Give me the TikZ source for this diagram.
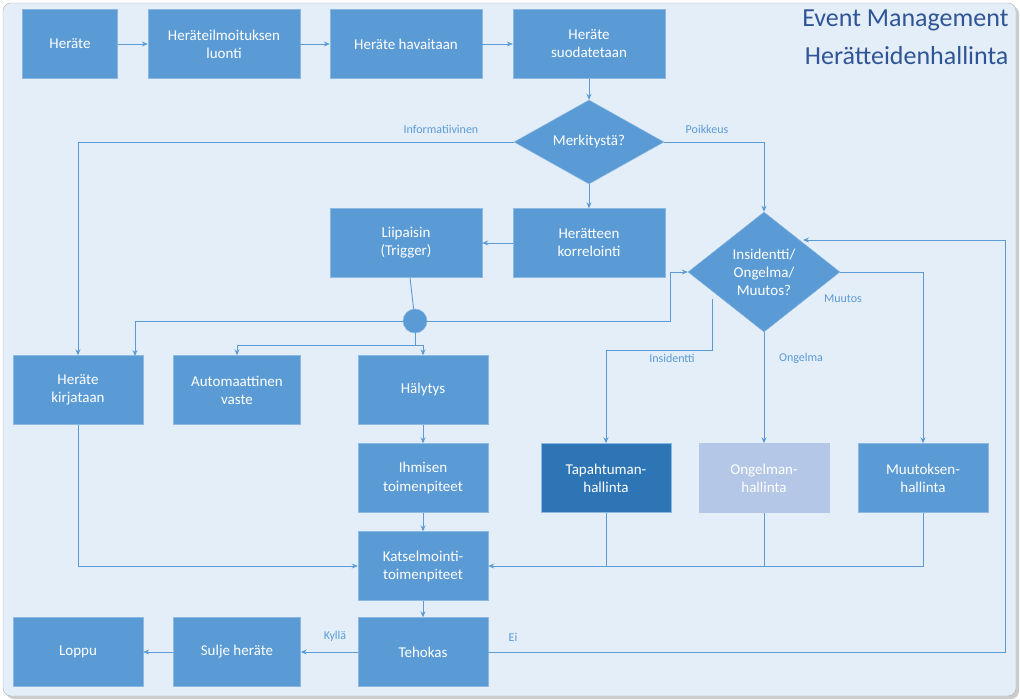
\documentclass[tikz,border=0pt]{standalone}
\usepackage{fontspec}
\setmainfont{Carlito}
\usetikzlibrary{shapes.geometric,arrows.meta,calc}
\definecolor{bx}{HTML}{5B9BD5}
\definecolor{dk}{HTML}{2E75B6}
\definecolor{lt}{HTML}{B4C7E7}
\definecolor{bg}{HTML}{E4EEF8}
\definecolor{tt}{HTML}{2F5597}
\begin{document}
\begin{tikzpicture}[x=1pt,y=-1pt,
  box/.style={rectangle,fill=bx,draw=bx!70!white,text=white,align=center,minimum width=#1,minimum height=69pt,inner sep=1pt,font=\fontsize{15}{18}\selectfont},
  box/.default=152pt,
  dia/.style={diamond,aspect=#1,fill=bx,draw=bx!70!white,text=white,align=center,inner sep=0pt,font=\fontsize{15}{18}\selectfont},
  ln/.style={draw=bx,line width=0.9pt},
  ar/.style={ln,-{Stealth[length=6pt,width=5pt]}},
  lb/.style={text=bx,font=\fontsize{12}{14}\selectfont}]
\useasboundingbox (0,0) rectangle (1020,700);
\fill[gray!40,rounded corners=8pt] (6,6) rectangle (1019,699);
\draw[fill=bg,draw=gray!60,rounded corners=8pt] (3,3) rectangle (1016,696);
\node[text=tt,align=right,anchor=north east,font=\fontsize{26}{38}\selectfont] (title) at (1012,6) {Event Management\\Herätteidenhallinta};
\node[box=95pt] (a) at (70,44) {Heräte};
\node[box] (b) at (224,44) {Heräteilmoituksen\\luonti};
\node[box] (c) at (406,44) {Heräte havaitaan};
\node[box] (d) at (589,44) {Heräte\\suodatetaan};
\node[dia=1.8,minimum width=150pt,minimum height=84pt] (m) at (589,142) {Merkitystä?};
\node[box] (k) at (589,243) {Herätteen\\korrelointi};
\node[box] (l) at (406,243) {Liipaisin\\(Trigger)};
\node[dia=1.27,minimum width=152pt,minimum height=120pt] (i) at (764,272) {Insidentti/\\Ongelma/\\Muutos?};
\node[circle,fill=bx,draw=bx!70!white,minimum size=24pt,inner sep=0pt] (o) at (415,321) {};
\node[box=130pt] (hk) at (78,390) {Heräte\\kirjataan};
\node[box=127pt] (av) at (237,390) {Automaattinen\\vaste};
\node[box=130pt] (h) at (423,390) {Hälytys};
\node[box=130pt] (it) at (423,478) {Ihmisen\\toimenpiteet};
\node[box=130pt] (kt) at (423,566) {Katselmointi-\\toimenpiteet};
\node[box=130pt] (t) at (423,652) {Tehokas};
\node[box=127pt] (s) at (237,652) {Sulje heräte};
\node[box=130pt] (lo) at (78,652) {Loppu};
\node[box=130pt,fill=dk] (th) at (606,478) {Tapahtuman-\\hallinta};
\node[box=130pt,fill=lt,draw=lt] (oh) at (764,478) {Ongelman-\\hallinta};
\node[box=130pt] (mh) at (923,478) {Muutoksen-\\hallinta};
\draw[ar] (a) -- (b); \draw[ar] (b) -- (c); \draw[ar] (c) -- (d);
\draw[ar] (d) -- (m); \draw[ar] (m) -- (k); \draw[ar] (k) -- (l);
\draw[ar] (m.west) -| (hk.north);
\draw[ar] (m.east) -| (i.north);
\node[lb] (li) at (441,129) {Informatiivinen};
\node[lb] (lp) at (707,129) {Poikkeus};
\draw[ln] (l) -- (o);
\draw[ar] (o.west) -| (135,356);
\coordinate (c1) at (670,321);
\draw[ar] (o.east) -- (c1) |- (i.west);
\draw[ln] (o.south) -- (415,345);
\draw[ar] (415,345) -| (av.north);
\draw[ar] (415,345) -| (h.north);
\draw[ar] (h) -- (it); \draw[ar] (it) -- (kt); \draw[ar] (kt) -- (t);
\draw[ar] (hk.south) |- (kt.west);
\draw[ln] (th.south) |- (oh.south |- kt.east);
\draw[ln] (oh.south) -- (oh.south |- kt.east);
\draw[ln] (mh.south) |- (oh.south |- kt.east);
\draw[ar] (th.south |- kt.east) -- (kt.east);
\coordinate (c2) at (712,299);
\draw[ar] (c2) |- (606,350) -- (th.north);
\draw[ar] (i.south) -- (oh.north);
\draw[ar] (i.east) -| (mh.north);
\node[lb] at (672,358) {Insidentti};
\node[lb] at (801,358) {Ongelma};
\node[lb] at (843,299) {Muutos};
\draw[ar] (t) -- (s); \draw[ar] (s) -- (lo);
\node[lb] at (335,636) {Kyllä};
\node[lb] at (513,637) {Ei};
\draw[ar] (t.east) -| (1005,240) -- (803,240);
\end{tikzpicture}
\end{document}
